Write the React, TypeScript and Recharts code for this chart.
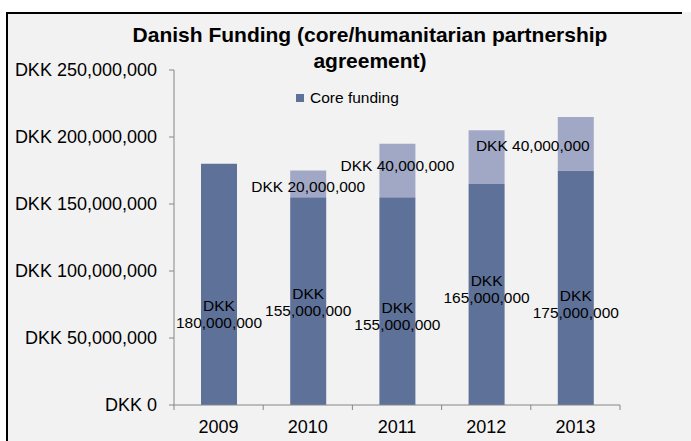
import React from "react";
import { BarChart, Bar, XAxis, YAxis, Legend, LabelList } from "recharts";

const years = ["2009", "2010", "2011", "2012", "2013"];
const coreFunding = [180000000, 155000000, 155000000, 165000000, 175000000];
const humanitarianFunding = [0, 20000000, 40000000, 40000000, 40000000];
const yTicks = [0, 50000000, 100000000, 150000000, 200000000, 250000000];
const titleLines = ["Danish Funding (core/humanitarian partnership", "agreement)"];
const legendLabel = "Core funding";

// label placement nudges (style, not data)
const coreLabelDy = [30, 1, 15, -5, 16];
const humLabelShift: ([number, number] | null)[] = [null, [0, 3], [0, -5], null, [-43, 2]];

const data = years.map((y, i) => ({ year: y, core: coreFunding[i], hum: humanitarianFunding[i] }));

const CORE = "#5e7198";
const HUM = "#a1a8c6";
const FONT = "'Liberation Sans', Arial, sans-serif";
const BAND = 89.2;

const fmt = (v: number) => "DKK " + v.toLocaleString("en-US");

const XTick = (props: any) => {
  const { x, y, payload, index } = props;
  const ay = y - 5;
  return (
    <g>
      <line x1={x - BAND / 2} x2={x - BAND / 2} y1={ay} y2={ay + 5} stroke="#868686" />
      {index === years.length - 1 && (
        <line x1={x + BAND / 2} x2={x + BAND / 2} y1={ay} y2={ay + 5} stroke="#868686" />
      )}
      <text x={x} y={ay + 28} textAnchor="middle" fontSize={18} fontFamily={FONT} fill="#000">
        {payload.value}
      </text>
    </g>
  );
};

const CoreLabel = (props: any) => {
  const { x, y, width, height, value } = props;
  const i = years.indexOf(String(value));
  if (i < 0) return null;
  const cx = x + width / 2;
  const cy = y + height / 2 + coreLabelDy[i];
  return (
    <text textAnchor="middle" fontSize={15.5} fontFamily={FONT} fill="#000">
      <tspan x={cx} y={cy - 3}>DKK</tspan>
      <tspan x={cx} y={cy + 14}>{coreFunding[i].toLocaleString("en-US")}</tspan>
    </text>
  );
};

const HumLabel = (props: any) => {
  const { x, y, width, height, value } = props;
  const i = years.indexOf(String(value));
  if (i < 0) return null;
  const s = humLabelShift[i];
  if (!humanitarianFunding[i] || !s) return null;
  const cx = x + width / 2 + s[0];
  const cy = y + height / 2 + s[1];
  return (
    <text x={cx} y={cy + 5.5} textAnchor="middle" fontSize={15.5} fontFamily={FONT} fill="#000">
      {fmt(humanitarianFunding[i])}
    </text>
  );
};

const renderLegend = () => (
  <div style={{ display: "flex", alignItems: "center", fontFamily: FONT, fontSize: 15.5, color: "#000", whiteSpace: "nowrap" }}>
    <span style={{ width: 8, height: 8, background: CORE, display: "inline-block", marginRight: 6 }} />
    <span>{legendLabel}</span>
  </div>
);

export default function App() {
  return (
    <div style={{ position: "absolute", left: 0, top: 0, width: 691, height: 441, background: "#fff" }}>
      <div style={{ position: "absolute", left: 6, top: 12, width: 685, height: 429, background: "#f2f2f2" }} />
      <div style={{ position: "absolute", left: 6, top: 12, width: 676, height: 2, background: "#000" }} />
      <div style={{ position: "absolute", left: 6, top: 12, width: 2, height: 429, background: "#000" }} />
      <div
        style={{
          position: "absolute",
          left: 70,
          width: 600,
          top: 22,
          textAlign: "center",
          fontFamily: FONT,
          fontWeight: "bold",
          fontSize: 21,
          lineHeight: "26px",
          color: "#000",
          whiteSpace: "nowrap",
        }}
      >
        {titleLines.map((l, i) => (
          <div key={i}>{l}</div>
        ))}
      </div>
      <div style={{ position: "absolute", left: 0, top: 0 }}>
        <BarChart width={691} height={441} data={data} margin={{ top: 70, right: 71, bottom: 0, left: 0 }}>
          <XAxis
            dataKey="year"
            tick={<XTick />}
            tickLine={false}
            tickSize={5}
            tickMargin={0}
            axisLine={{ stroke: "#868686" }}
            height={36}
          />
          <YAxis
            type="number"
            domain={[0, 250000000]}
            ticks={yTicks}
            tickFormatter={fmt}
            width={174}
            tickSize={5}
            tickMargin={12}
            axisLine={{ stroke: "#868686" }}
            tickLine={{ stroke: "#868686" }}
            tick={{ fontSize: 18, fontFamily: FONT, fill: "#000" }}
            interval={0}
          />
          <Legend
            layout="horizontal"
            verticalAlign="middle"
            align="center"
            content={renderLegend}
            wrapperStyle={{ position: "absolute", top: 89, left: 296, width: "auto" }}
          />
          <Bar dataKey="core" stackId="a" fill={CORE} barSize={36} isAnimationActive={false}>
            <LabelList dataKey="year" content={<CoreLabel />} />
          </Bar>
          <Bar dataKey="hum" stackId="a" fill={HUM} barSize={36} isAnimationActive={false}>
            <LabelList dataKey="year" content={<HumLabel />} />
          </Bar>
        </BarChart>
      </div>
    </div>
  );
}
